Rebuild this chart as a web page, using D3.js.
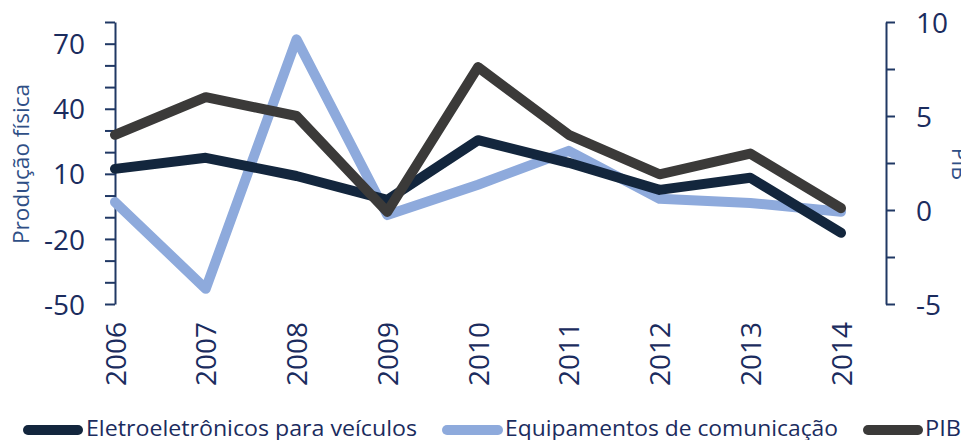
<!DOCTYPE html>
<html><head><meta charset="utf-8">
<script src="https://cdn.jsdelivr.net/npm/d3@7"></script>
<style>body{margin:0;background:#fff;overflow:hidden}svg{display:block}</style>
</head><body>
<svg id="c" width="961" height="440"></svg>
<script>
const years = ["2006","2007","2008","2009","2010","2011","2012","2013","2014"];
const eletro = [12.3, 17.4, 9.0, -2, 25.5, 15.1, 2.6, 8.2, -17.2];
const equip = [-3, -43, 72, -9, 5, 20.6, -1.5, -3.4, -7.5];
const pib = [4.0, 6.0, 5.0, -0.1, 7.6, 4.0, 1.9, 3.0, 0.1];
const leftTicks = d3.range(-50, 81, 10);
const leftLabels = [70, 40, 10, -20, -50];
const rightTicks = [-5, -2.5, 0, 2.5, 5, 7.5, 10];
const rightLabels = [-5, 0, 5, 10];
const seriesNames = ["Eletroeletrônicos para veículos", "Equipamentos de comunicação", "PIB"];
const colors = ["#13263d", "#8eaadc", "#3b3a39"];

const svg = d3.select("#c");
const font = "'Open Sans', 'Noto Sans', sans-serif";
const axisColor = "#203864";
const textColor = "#1b2c5e";

const x = d3.scalePoint().domain(years).range([115, 841]);
const yL = d3.scaleLinear().domain([-50, 80]).range([304, 22]);
const yR = d3.scaleLinear().domain([-5, 10]).range([304, 22]);

// left axis
const gL = svg.append("g").attr("transform", "translate(115,0)")
  .call(d3.axisLeft(yL).tickValues(leftTicks).tickSize(10).tickSizeOuter(0).tickPadding(20)
    .tickFormat(d => leftLabels.includes(d) ? d : ""));
gL.select(".domain").attr("stroke", axisColor).attr("stroke-width", 2);
gL.selectAll(".tick line").attr("stroke", axisColor).attr("stroke-width", 2);
gL.selectAll(".tick text").attr("fill", textColor).attr("font-family", font).attr("font-size", 28).attr("dy", "0.36em");

// right axis
const gR = svg.append("g").attr("transform", "translate(886,0)")
  .call(d3.axisRight(yR).tickValues(rightTicks).tickSize(9).tickSizeOuter(0).tickPadding(21)
    .tickFormat(d => rightLabels.includes(d) ? d : ""));
gR.select(".domain").attr("stroke", axisColor).attr("stroke-width", 2);
gR.selectAll(".tick line").attr("stroke", axisColor).attr("stroke-width", 2);
gR.selectAll(".tick text").attr("fill", textColor).attr("font-family", font).attr("font-size", 28).attr("dy", "0.36em");

// x axis labels
const gX = svg.append("g").attr("transform", "translate(0,322)")
  .call(d3.axisBottom(x).tickSize(0).tickPadding(0));
gX.select(".domain").remove();
gX.selectAll(".tick text")
  .attr("fill", textColor).attr("font-family", font).attr("font-size", 28)
  .attr("transform", "rotate(-90)").attr("text-anchor", "end")
  .attr("x", 0).attr("y", 0).attr("dy", "0.36em");

// titles
svg.append("text").attr("transform", "translate(29,164) rotate(-90)")
  .attr("text-anchor", "middle").attr("fill", "#2f4f86").attr("font-family", font)
  .attr("font-size", 22).attr("textLength", 160).attr("lengthAdjust", "spacingAndGlyphs")
  .text("Produção física");
svg.append("text").attr("transform", "translate(952,164) rotate(90)")
  .attr("text-anchor", "middle").attr("fill", "#2f4f86").attr("font-family", font)
  .attr("font-size", 21).text("PIB");

// lines
const lineL = d3.line().x((d, i) => x(years[i])).y(d => yL(d));
const lineR = d3.line().x((d, i) => x(years[i])).y(d => yR(d));
const drawOrder = [
  {data: equip, gen: lineL, c: colors[1]},
  {data: eletro, gen: lineL, c: colors[0]},
  {data: pib, gen: lineR, c: colors[2]}
];
drawOrder.forEach(s => {
  svg.append("path").attr("d", s.gen(s.data)).attr("fill", "none")
    .attr("stroke", s.c).attr("stroke-width", 10)
    .attr("stroke-linejoin", "round").attr("stroke-linecap", "round");
});

// legend
const legendItems = [
  {x0: 28, x1: 78, tx: 86, tl: 331},
  {x0: 447, x1: 498, tx: 505, tl: 333},
  {x0: 868, x1: 918, tx: 925, tl: 36}
];
legendItems.forEach((l, i) => {
  svg.append("line").attr("x1", l.x0).attr("x2", l.x1).attr("y1", 430).attr("y2", 430)
    .attr("stroke", colors[i]).attr("stroke-width", 10).attr("stroke-linecap", "round");
  svg.append("text").attr("x", l.tx).attr("y", 436).attr("fill", textColor)
    .attr("font-family", font).attr("font-size", 21)
    .attr("textLength", l.tl).attr("lengthAdjust", "spacingAndGlyphs")
    .text(seriesNames[i]);
});
</script>
</body></html>
